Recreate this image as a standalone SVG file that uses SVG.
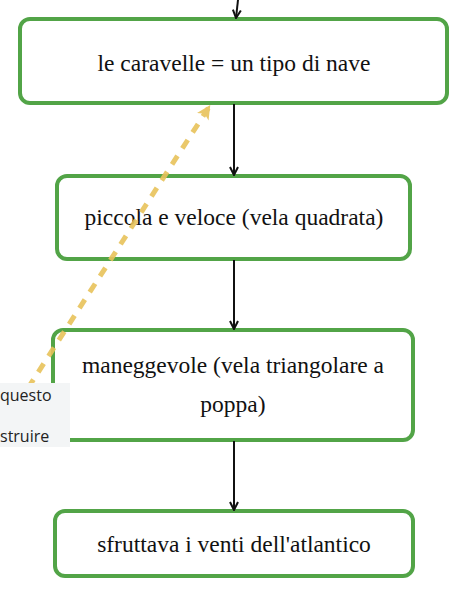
<svg xmlns="http://www.w3.org/2000/svg" width="468" height="598" viewBox="0 0 468 598">
<style>
.node rect{fill:#fff;stroke:#52a447;stroke-width:4}
.node text{font-family:"Liberation Serif","Times New Roman",serif;font-size:23.5px;fill:#111;text-anchor:middle}
.c{stroke:#111;stroke-width:2;fill:none}
.y{stroke:#e8c35a;stroke-width:5;fill:none;stroke-dasharray:10 9}
.lbl text{font-family:"Open Sans",sans-serif;font-size:16px;fill:#222}
</style>
<defs>
<marker id="a" viewBox="0 0 10 10" refX="9" refY="5" markerWidth="10" markerHeight="10" markerUnits="userSpaceOnUse" orient="auto">
<path d="M1,1 L9,5 L1,9" fill="none" stroke="#111" stroke-width="2"/>
</marker>
<marker id="ya" viewBox="0 0 12 12" refX="10" refY="6" markerWidth="14" markerHeight="14" markerUnits="userSpaceOnUse" orient="auto">
<path d="M0,0 L12,6 L0,12 L3,6 Z" fill="#e8c35a"/>
</marker>
</defs>
<g id="n1" class="node"><rect x="20" y="19" width="427" height="84" rx="10"/><text x="234" y="71">le caravelle = un tipo di nave</text></g>
<g id="n2" class="node"><rect x="57" y="176" width="353" height="83" rx="10"/><text x="234" y="225">piccola e veloce (vela quadrata)</text></g>
<g id="n3" class="node"><rect x="53" y="330" width="360" height="110" rx="10"/><text x="233" y="373">maneggevole (vela triangolare a</text><text x="233" y="412">poppa)</text></g>
<g id="n4" class="node"><rect x="55" y="511" width="358" height="65" rx="10"/><text x="234" y="552">sfruttava i venti dell'atlantico</text></g>
<g id="connectors">
<path class="c" d="M238,0 L236,18" marker-end="url(#a)"/>
<path class="c" d="M234,104 L234,175" marker-end="url(#a)"/>
<path class="c" d="M234,260 L234,329" marker-end="url(#a)"/>
<path class="c" d="M234,441 L234,510" marker-end="url(#a)"/>
<path class="y" opacity="0.9" d="M28,388 L209,107" marker-end="url(#ya)"/>
</g>
<g id="label" class="lbl"><rect x="0" y="383" width="70" height="64" fill="#f3f5f6"/><text x="0" y="401">questo</text><text x="0" y="442">struire</text></g>
</svg>
